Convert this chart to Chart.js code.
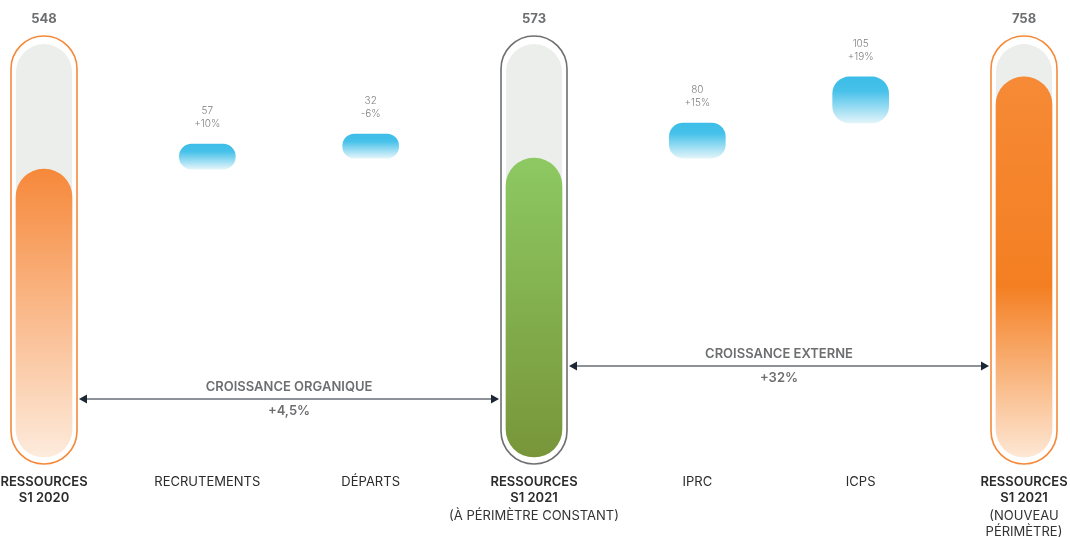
<!DOCTYPE html>
<html lang="fr">
<head>
<meta charset="utf-8">
<title>Ressources S1 2020 - S1 2021</title>
<script src="https://cdn.jsdelivr.net/npm/chart.js@4.4.1/dist/chart.umd.min.js"></script>
<style>
  html, body { margin: 0; padding: 0; background: #ffffff; overflow: hidden; }
  #wrap { position: relative; width: 1070px; height: 537px; }
  canvas { display: block; }
</style>
</head>
<body>
<div id="wrap"><canvas id="resChart" width="1070" height="537"></canvas></div>
<script>
// --- données ---
const categories = [
  ['RESSOURCES', 'S1 2020'],
  ['RECRUTEMENTS'],
  ['DÉPARTS'],
  ['RESSOURCES', 'S1 2021'],
  ['IPRC'],
  ['ICPS'],
  ['RESSOURCES', 'S1 2021']
];
const subLabels = [[], [], [], ['(À PÉRIMÈTRE CONSTANT)'], [], [], ['(NOUVEAU', 'PÉRIMÈTRE)']];
const totals = [548, null, null, 573, null, null, 758];
const movements = [null, 57, -32, null, 80, 105, null];
const movementPct = ['', '+10%', '-6%', '', '+15%', '+19%', ''];
const growthNames = ['CROISSANCE ORGANIQUE', 'CROISSANCE EXTERNE'];
const growthPct = ['+4,5%', '+32%'];

const Y_MIN = -108;
const Y_MAX = 833;

// barres flottantes : cumul depuis le dernier total
const barData = [];
let level = 0;
categories.forEach((c, i) => {
  if (totals[i] !== null) {
    level = totals[i];
    barData.push(totals[i]);
  } else {
    const m = movements[i];
    if (m >= 0) {
      barData.push([level, level + m]);
      level += m;
    } else {
      // un départ : la barre descend depuis le niveau atteint
      barData.push([level + m, level]);
      level += m;
    }
  }
});

const TRACK = '#eceeec';
const outlineColors = ['#f5893a', null, null, '#6e6f71', null, null, '#f5893a'];
const GRAY_TEXT = '#6d6e70';
const DARK_TEXT = '#2b2b2b';
const ARROW = '#1d2635';

function barGradient(ctx, i, top, bottom) {
  const g = ctx.createLinearGradient(0, top, 0, bottom);
  if (i === 0) {
    g.addColorStop(0, '#f6883a');
    g.addColorStop(1, '#fdebdc');
  } else if (i === 3) {
    g.addColorStop(0, '#8dc962');
    g.addColorStop(1, '#78953a');
  } else if (i === 6) {
    g.addColorStop(0, '#f68a36');
    g.addColorStop(0.55, '#f47f22');
    g.addColorStop(1, '#fde7d4');
  } else {
    g.addColorStop(0, '#3cbde8');
    g.addColorStop(0.3, '#46c1ea');
    g.addColorStop(1, '#e2f4fa');
  }
  return g;
}

// piste grise + contour des barres de total
const capsulePlugin = {
  id: 'capsules',
  beforeDatasetsDraw(chart) {
    const { ctx, chartArea } = chart;
    const meta = chart.getDatasetMeta(0);
    ctx.save();
    totals.forEach((v, i) => {
      if (v === null) return;
      const bar = meta.data[i];
      const half = bar.width / 2;
      const h = chartArea.bottom - chartArea.top;
      ctx.beginPath();
      ctx.roundRect(bar.x - half, chartArea.top, half * 2, h, half);
      ctx.fillStyle = TRACK;
      ctx.fill();
      const pad = 5;
      ctx.beginPath();
      ctx.roundRect(bar.x - half - pad, chartArea.top - 8, (half + pad) * 2, h + 15, half + pad);
      ctx.strokeStyle = outlineColors[i];
      ctx.lineWidth = 1.6;
      ctx.stroke();
    });
    ctx.restore();
  }
};

function arrowHead(ctx, x, y, dir) {
  ctx.beginPath();
  ctx.moveTo(x, y);
  ctx.lineTo(x - dir * 8, y - 4.5);
  ctx.lineTo(x - dir * 8, y + 4.5);
  ctx.closePath();
  ctx.fill();
}

// libellés, valeurs et flèches de croissance
const labelsPlugin = {
  id: 'labels',
  afterDatasetsDraw(chart) {
    const { ctx, chartArea, scales: { x } } = chart;
    const meta = chart.getDatasetMeta(0);
    ctx.save();
    ctx.textAlign = 'center';
    ctx.textBaseline = 'middle';

    categories.forEach((lines, i) => {
      const cx = x.getPixelForValue(i);
      const isTotal = totals[i] !== null;
      let ty = chartArea.bottom + 25;
      ctx.fillStyle = DARK_TEXT;
      ctx.font = (isTotal ? '600 ' : '400 ') + '13px Inter, sans-serif';
      lines.forEach(t => { ctx.fillText(t, cx, ty); ty += 16; });
      ctx.font = '400 13px Inter, sans-serif';
      ctx.fillStyle = '#333333';
      subLabels[i].forEach(t => { ctx.fillText(t, cx, ty + 2); ty += 16; });

      if (isTotal) {
        ctx.fillStyle = GRAY_TEXT;
        ctx.font = '700 13px Inter, sans-serif';
        ctx.fillText(String(totals[i]), cx, chartArea.top - 25);
      } else {
        // haut réel de la barre (tient compte de minBarLength)
        const top = meta.data[i].y;
        ctx.fillStyle = '#808080';
        ctx.font = '300 10px Inter, sans-serif';
        ctx.fillText(String(Math.abs(movements[i])), cx, top - 33);
        ctx.fillText(movementPct[i], cx, top - 20);
      }
    });

    const arrows = [
      { from: 0, to: 3, dy: 58, name: growthNames[0], pct: growthPct[0] },
      { from: 3, to: 6, dy: 91, name: growthNames[1], pct: growthPct[1] }
    ];
    arrows.forEach(a => {
      const b0 = meta.data[a.from], b1 = meta.data[a.to];
      const x0 = b0.x + b0.width / 2 + 7;
      const x1 = b1.x - b1.width / 2 - 7;
      const ay = chartArea.bottom - a.dy;
      ctx.strokeStyle = ARROW;
      ctx.fillStyle = ARROW;
      ctx.lineWidth = 1.2;
      ctx.beginPath();
      ctx.moveTo(x0 + 4, ay);
      ctx.lineTo(x1 - 4, ay);
      ctx.stroke();
      arrowHead(ctx, x0, ay, -1);
      arrowHead(ctx, x1, ay, 1);
      const mx = (x0 + x1) / 2;
      ctx.fillStyle = GRAY_TEXT;
      ctx.font = '600 13px Inter, sans-serif';
      ctx.fillText(a.name, mx, ay - 12);
      ctx.fillText(a.pct, mx, ay + 12);
    });
    ctx.restore();
  }
};

new Chart(document.getElementById('resChart'), {
  type: 'bar',
  data: {
    labels: categories,
    datasets: [{
      data: barData,
      base: Y_MIN,
      clip: false,
      barThickness: 56,
      minBarLength: 24,
      borderSkipped: false,
      borderWidth: 0,
      borderRadius: c => (totals[c.dataIndex] !== null ? 28 : (c.dataIndex === 5 ? 17 : 14)),
      backgroundColor: c => {
        const chart = c.chart;
        const ys = chart.scales.y;
        if (!chart.chartArea || !ys) return '#cccccc';
        const v = barData[c.dataIndex];
        const hi = Array.isArray(v) ? v[1] : v;
        const lo = Array.isArray(v) ? v[0] : Y_MIN;
        let top = ys.getPixelForValue(hi);
        const bottom = ys.getPixelForValue(lo);
        if (bottom - top < 24) top = bottom - 24;
        return barGradient(chart.ctx, c.dataIndex, top, bottom);
      }
    }]
  },
  options: {
    responsive: false,
    animation: false,
    layout: { padding: { left: 44, right: 46, top: 44, bottom: 80 } },
    plugins: { legend: { display: false }, tooltip: { enabled: false } },
    scales: {
      x: { display: false, offset: false, grid: { display: false } },
      y: { display: false, min: Y_MIN, max: Y_MAX }
    }
  },
  plugins: [capsulePlugin, labelsPlugin]
});
</script>
</body>
</html>
